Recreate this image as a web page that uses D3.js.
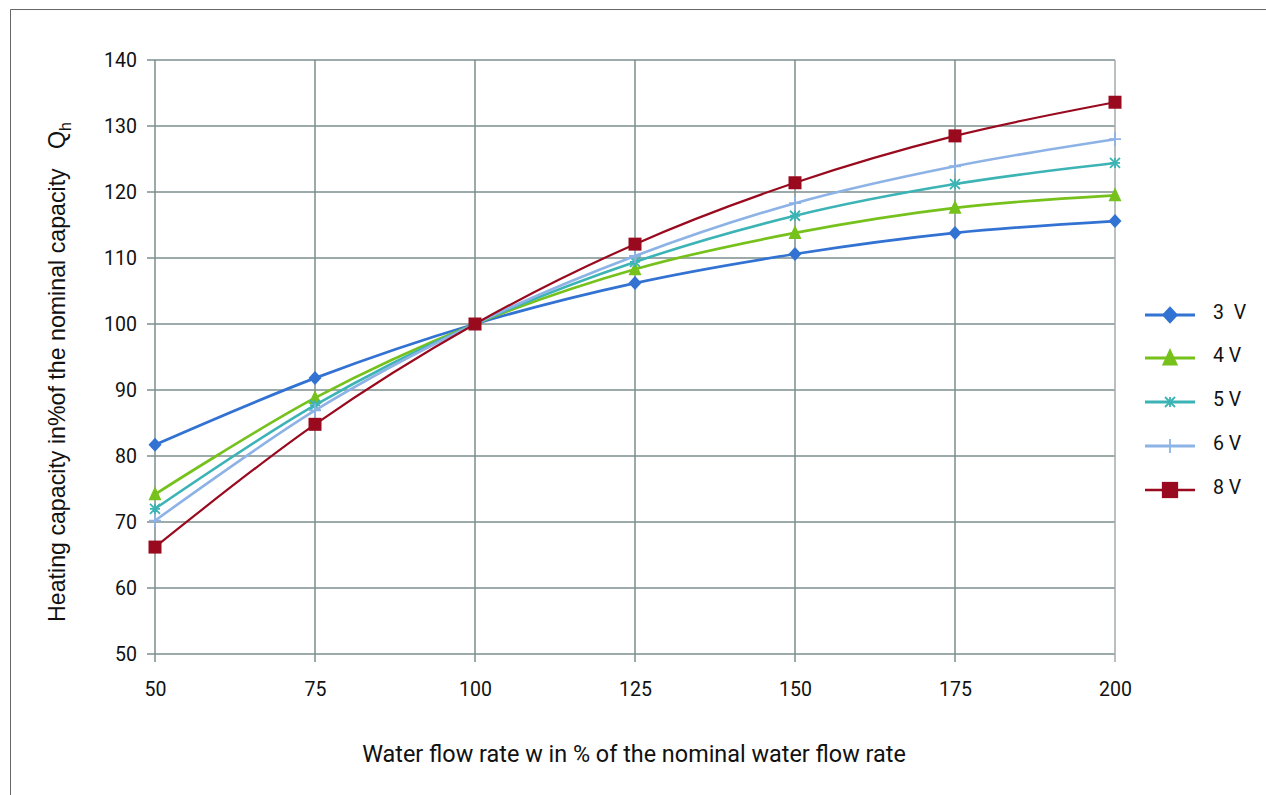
<!DOCTYPE html>
<html><head><meta charset="utf-8">
<script src="https://cdn.jsdelivr.net/npm/d3@7"></script>
<style>body{margin:0;background:#fff}svg{display:block}</style>
</head><body>
<svg id="c" width="1266" height="795"></svg>
<script>
const flowRates = [50, 75, 100, 125, 150, 175, 200];
const yTicks = [50, 60, 70, 80, 90, 100, 110, 120, 130, 140];
const seriesNames = ["3  V", "4 V", "5 V", "6 V", "8 V"];
const v3 = [81.7, 91.8, 100, 106.2, 110.6, 113.8, 115.6];
const v4 = [74.2, 88.8, 100, 108.3, 113.8, 117.6, 119.5];
const v5 = [72.0, 87.7, 100, 109.4, 116.4, 121.2, 124.4];
const v6 = [70.2, 86.9, 100, 110.3, 118.3, 123.9, 128.0];
const v8 = [66.2, 84.8, 100, 112.1, 121.4, 128.5, 133.6];

const series = [
  {name: seriesNames[0], values: v3, color: "#3272d2", marker: "diamond", w: 2.7},
  {name: seriesNames[1], values: v4, color: "#76c11c", marker: "triangle", w: 2.7},
  {name: seriesNames[2], values: v5, color: "#3cb3b5", marker: "star", w: 2.6},
  {name: seriesNames[3], values: v6, color: "#8db3e6", marker: "plus", w: 2.6},
  {name: seriesNames[4], values: v8, color: "#990a1f", marker: "square", w: 2.2}
];

const svg = d3.select("#c");
const L = 155, R = 1115, T = 60, B = 654;
const x = d3.scaleLinear().domain([50, 200]).range([L, R]);
const y = d3.scaleLinear().domain([50, 140]).range([B, T]);
const tickFont = "Roboto, sans-serif";

// frame
svg.append("path").attr("d", "M10.5,800 V9.5 H1270").attr("fill","none").attr("stroke","#666").attr("stroke-width",1);

const gridC = "#7c8e8e";
svg.append("g").selectAll("line").data(yTicks).join("line")
  .attr("x1", L - 8).attr("x2", R).attr("y1", d => y(d)).attr("y2", d => y(d))
  .attr("stroke", gridC).attr("stroke-width", 1.5);
svg.append("g").selectAll("line").data(flowRates).join("line")
  .attr("x1", d => x(d)).attr("x2", d => x(d)).attr("y1", T).attr("y2", B + 8)
  .attr("stroke", d => d === 200 ? "#a3abab" : gridC).attr("stroke-width", 1.5);

const yAxis = svg.append("g").attr("transform", `translate(${L},0)`)
  .call(d3.axisLeft(y).tickValues(yTicks).tickSize(0).tickPadding(18));
const xAxis = svg.append("g").attr("transform", `translate(0,${B})`)
  .call(d3.axisBottom(x).tickValues(flowRates).tickSize(0).tickPadding(28));
[yAxis, xAxis].forEach(g => {
  g.select(".domain").remove();
  g.selectAll("text").attr("font-family", tickFont).attr("font-size", 19.5).attr("fill", "#111");
});

svg.append("text").attr("x", 634).attr("y", 762).attr("text-anchor", "middle")
  .attr("font-family", tickFont).attr("font-size", 23.4).attr("fill", "#111")
  .text("Water flow rate w in % of the nominal water flow rate");
const yt = svg.append("text").attr("transform", "translate(65,372) rotate(-90)").attr("text-anchor", "middle")
  .attr("font-family", "'Liberation Sans', Arial, sans-serif").attr("font-size", 23.2).attr("fill", "#111")
  .attr("xml:space", "preserve").style("white-space", "pre");
yt.append("tspan").text("Heating capacity in%of the nominal capacity   Q");
yt.append("tspan").attr("font-size", 16).attr("dy", 6).text("h");

const line = d3.line().x((d, i) => x(flowRates[i])).y(d => y(d)).curve(d3.curveCatmullRom.alpha(0));
function marker(g, type, color, cx, cy, k) {
  k = k || 1;
  if (type === "diamond") {
    const a = 6.5 * k, b = 7 * k;
    g.append("path").attr("d", `M${cx},${cy-b}L${cx+a},${cy}L${cx},${cy+b}L${cx-a},${cy}Z`).attr("fill", color);
  } else if (type === "triangle") {
    g.append("path").attr("d", `M${cx},${cy-8*k} L${cx+6.5*k},${cy+6*k} L${cx-6.5*k},${cy+6*k}Z`).attr("fill", color);
  } else if (type === "square") {
    const s = 6.5 * k;
    g.append("rect").attr("x", cx - s).attr("y", cy - s).attr("width", 2*s).attr("height", 2*s).attr("fill", color);
  } else if (type === "star") {
    const r = 5;
    const p = `M${cx-r},${cy-r}L${cx+r},${cy+r}M${cx+r},${cy-r}L${cx-r},${cy+r}M${cx-r},${cy}L${cx+r},${cy}M${cx},${cy-r}L${cx},${cy+r}`;
    g.append("path").attr("d", p).attr("stroke", color).attr("stroke-width", 1.8).attr("fill", "none");
  } else if (type === "plus") {
    const p = `M${cx-6},${cy}L${cx+6},${cy}M${cx},${cy-7}L${cx},${cy+7}`;
    g.append("path").attr("d", p).attr("stroke", color).attr("stroke-width", 1.8).attr("fill", "none");
  }
}
series.forEach(s => {
  const g = svg.append("g");
  g.append("path").attr("d", line(s.values)).attr("fill", "none").attr("stroke", s.color).attr("stroke-width", s.w);
  s.values.forEach((v, i) => marker(g, s.marker, s.color, x(flowRates[i]), y(v)));
});

const legY = [315, 358, 402, 446, 490];
series.forEach((s, i) => {
  const g = svg.append("g");
  g.append("line").attr("x1", 1145).attr("x2", 1195).attr("y1", legY[i]).attr("y2", legY[i])
    .attr("stroke", s.color).attr("stroke-width", s.w + 0.3);
  marker(g, s.marker, s.color, 1170, legY[i], 1.25);
  g.append("text").attr("x", 1213).attr("y", legY[i] + 4).attr("font-family", tickFont)
    .attr("font-size", 19.5).attr("fill", "#111").attr("xml:space", "preserve").style("white-space", "pre").text(s.name);
});
</script>
</body></html>
